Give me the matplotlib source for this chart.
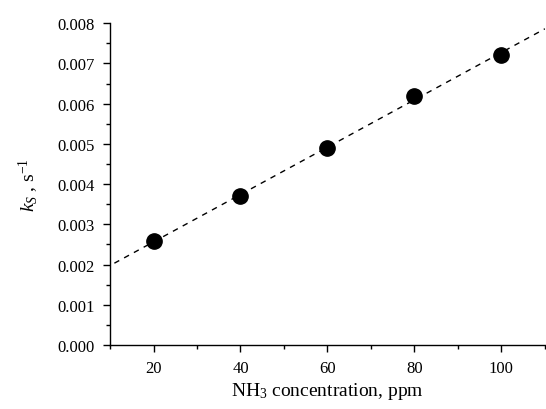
import numpy as np
import matplotlib
matplotlib.use("Agg")
import matplotlib.pyplot as plt
from matplotlib.ticker import MultipleLocator, FormatStrFormatter

# Dati
conc_ppm = [20, 40, 60, 80, 100]
k_s = [0.00258, 0.00370, 0.00490, 0.00619, 0.00722]

plt.rcParams["font.family"] = ["Liberation Serif", "DejaVu Serif"]
plt.rcParams["mathtext.fontset"] = "custom"
plt.rcParams["mathtext.rm"] = "Liberation Serif"
plt.rcParams["mathtext.it"] = "Liberation Serif:italic"

fig = plt.figure(figsize=(5.46, 4.10), dpi=100)
ax = fig.add_axes([0.2015, 0.156, 0.7965, 0.785])

# Retta di regressione
slope, intercept = np.polyfit(conc_ppm, k_s, 1)
xfit = np.array([11, 110])
ax.plot(xfit, slope * xfit + intercept, "k--", lw=1.0, dashes=(4, 4))

ax.plot(conc_ppm, k_s, "o", color="black", ms=11, zorder=5)

ax.set_xlim(10, 110)
ax.set_ylim(0, 0.008)
ax.xaxis.set_major_locator(MultipleLocator(20))
ax.xaxis.set_minor_locator(MultipleLocator(10))
ax.yaxis.set_major_locator(MultipleLocator(0.001))
ax.yaxis.set_minor_locator(MultipleLocator(0.0005))
ax.yaxis.set_major_formatter(FormatStrFormatter("%.3f"))

for s in ["top", "right"]:
    ax.spines[s].set_visible(False)
ax.spines["left"].set_linewidth(1.0)
ax.spines["bottom"].set_linewidth(1.0)
ax.tick_params(which="major", direction="out", length=5, width=1.0,
               labelsize=12, pad=6)
ax.tick_params(which="minor", direction="out", length=3, width=1.0)

ax.set_xlabel("NH$_3$ concentration, ppm", fontsize=14, labelpad=3)
ax.set_ylabel("$k_S$ , s$^{-1}$", fontsize=14, labelpad=12)

fig.savefig("out.png", dpi=100)
